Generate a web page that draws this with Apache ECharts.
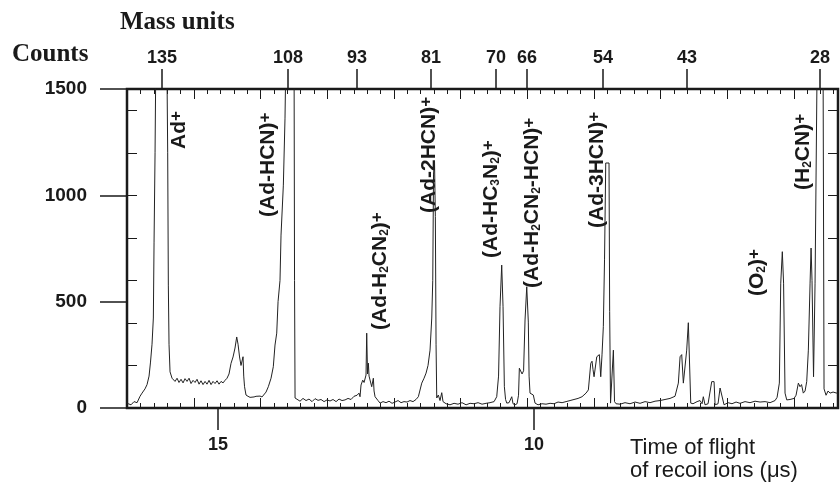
<!DOCTYPE html>
<html>
<head>
<meta charset="utf-8">
<script src="https://cdn.jsdelivr.net/npm/echarts@6/dist/echarts.min.js"></script>
<style>
  html, body { margin: 0; padding: 0; background: #fff; }
  #chart { width: 840px; height: 483px; }
</style>
</head>
<body>
<div id="chart"></div>
<script>
var timeValues = [
  16.440, 16.376, 16.329, 16.281, 16.234, 16.202, 16.155, 16.123, 16.091, 16.068,
  16.044, 16.023, 16.012, 15.996, 15.985, 15.917, 15.811, 15.796, 15.786, 15.775,
  15.759, 15.727, 15.680, 15.648, 15.617, 15.585, 15.553, 15.522, 15.490, 15.458,
  15.427, 15.395, 15.363, 15.332, 15.300, 15.269, 15.237, 15.205, 15.174, 15.142,
  15.110, 15.079, 15.047, 15.015, 14.984, 14.952, 14.920, 14.889, 14.857, 14.826,
  14.794, 14.762, 14.731, 14.704, 14.683, 14.659, 14.636, 14.604, 14.593, 14.580,
  14.557, 14.525, 14.493, 14.462, 14.430, 14.398, 14.367, 14.335, 14.303, 14.272,
  14.240, 14.204, 14.161, 14.125, 14.098, 14.071, 14.050, 14.019, 14.003, 13.966,
  13.940, 13.928, 13.860, 13.797, 13.789, 13.781, 13.750, 13.702, 13.655, 13.607,
  13.560, 13.512, 13.465, 13.417, 13.370, 13.322, 13.275, 13.227, 13.180, 13.132,
  13.085, 13.038, 12.990, 12.943, 12.895, 12.848, 12.800, 12.769, 12.753, 12.737,
  12.710, 12.689, 12.658, 12.647, 12.634, 12.621, 12.610, 12.595, 12.568, 12.542,
  12.531, 12.515, 12.468, 12.436, 12.389, 12.341, 12.294, 12.246, 12.199, 12.151,
  12.104, 12.057, 12.009, 11.962, 11.914, 11.867, 11.830, 11.803, 11.776, 11.740,
  11.708, 11.677, 11.645, 11.618, 11.602, 11.590, 11.574, 11.561, 11.550, 11.539,
  11.514, 11.487, 11.460, 11.440, 11.392, 11.329, 11.265, 11.202, 11.139, 11.075,
  11.012, 10.949, 10.885, 10.822, 10.759, 10.696, 10.632, 10.590, 10.561, 10.538,
  10.511, 10.490, 10.469, 10.450, 10.431, 10.395, 10.352, 10.332, 10.300, 10.268,
  10.245, 10.232, 10.213, 10.189, 10.165, 10.142, 10.115, 10.090, 10.078, 10.063,
  10.039, 10.011, 9.984, 9.936, 9.873, 9.810, 9.746, 9.683, 9.620, 9.556,
  9.493, 9.430, 9.367, 9.303, 9.240, 9.177, 9.140, 9.102, 9.082, 9.066,
  9.050, 9.007, 8.966, 8.944, 8.924, 8.903, 8.884, 8.865, 8.837, 8.813,
  8.803, 8.789, 8.765, 8.744, 8.726, 8.702, 8.639, 8.560, 8.481, 8.401,
  8.322, 8.243, 8.164, 8.085, 8.006, 7.927, 7.848, 7.769, 7.716, 7.689,
  7.663, 7.637, 7.610, 7.584, 7.558, 7.539, 7.520, 7.484, 7.420, 7.373,
  7.341, 7.321, 7.294, 7.246, 7.215, 7.188, 7.151, 7.135, 7.088, 7.056,
  7.025, 6.993, 6.930, 6.867, 6.803, 6.740, 6.661, 6.582, 6.503, 6.423,
  6.344, 6.265, 6.186, 6.154, 6.118, 6.096, 6.071, 6.051, 6.028, 6.001,
  5.949, 5.885, 5.854, 5.817, 5.791, 5.767, 5.739, 5.711, 5.685, 5.659,
  5.632, 5.616, 5.601, 5.577, 5.553, 5.521, 5.489, 5.426, 5.411, 5.379,
  5.347, 5.316, 5.268, 5.210, 5.189
];
var countValues = [
  22, 15, 30, 25, 55, 70, 90, 110, 150, 216,
  300, 423, 780, 1200, 1600, 4000, 1700, 1200, 578, 300,
  170, 140, 125, 140, 120, 135, 118, 138, 125, 140,
  115, 130, 120, 135, 112, 128, 110, 125, 112, 130,
  110, 125, 115, 128, 112, 125, 118, 130, 140, 160,
  210, 240, 282, 334, 300, 240, 200, 241, 150, 100,
  61, 55, 50, 58, 52, 55, 50, 56, 52, 60,
  75, 100, 140, 194, 296, 352, 500, 600, 813, 1048,
  1363, 1600, 4000, 1700, 600, 47, 40, 32, 45, 35,
  42, 30, 44, 36, 40, 30, 38, 33, 40, 30,
  42, 35, 38, 45, 40, 55, 60, 70, 53, 108,
  131, 120, 155, 352, 160, 211, 150, 155, 100, 140,
  80, 53, 35, 23, 30, 25, 32, 22, 28, 35,
  25, 30, 28, 35, 30, 40, 53, 61, 117, 140,
  164, 200, 272, 423, 600, 1100, 1160, 900, 300, 47,
  61, 35, 72, 30, 20, 15, 22, 18, 25, 15,
  22, 20, 25, 18, 22, 25, 30, 53, 150, 476,
  672, 476, 100, 40, 23, 25, 53, 20, 15, 20,
  60, 187, 180, 160, 175, 414, 570, 404, 150, 70,
  65, 61, 23, 15, 20, 18, 22, 20, 28, 25,
  30, 35, 40, 45, 53, 70, 85, 210, 220, 180,
  147, 241, 251, 147, 250, 382, 700, 1152, 1160, 1152,
  453, 23, 30, 272, 30, 20, 18, 25, 20, 28,
  22, 30, 25, 32, 35, 40, 45, 55, 117, 241,
  251, 117, 117, 272, 401, 401, 23, 20, 30, 35,
  20, 53, 15, 20, 18, 124, 124, 15, 20, 94,
  90, 15, 25, 20, 28, 22, 30, 25, 32, 28,
  30, 25, 35, 50, 117, 587, 735, 587, 70, 38,
  40, 45, 60, 117, 100, 110, 70, 80, 124, 272,
  587, 752, 600, 147, 587, 1600, 4000, 1600, 90, 60,
  80, 70, 75, 70, 65
];

// top axis: mass units and the flight time where each one sits
var massLabels = ['135', '108', '93', '81', '70', '66', '54', '43', '28'];
var massTimes = [15.886, 13.892, 12.800, 11.629, 10.601, 10.110, 8.908, 7.579, 5.474];

var timeTicks = [15, 10];
var timeMin = 5.19, timeMax = 16.44;

// peak names, rich text
var peakLabels = [
  '{m|Ad}{p|+}',
  '{m|(Ad-HCN)}{p|+}',
  '{m|(Ad-H}{s|2}{m|CN}{s|2}{m|)}{p|+}',
  '{m|(Ad-2HCN)}{p|+}',
  '{m|(Ad-HC}{s|3}{m|N}{s|2}{m|)}{p|+}',
  '{m|(Ad-H}{s|2}{m|CN}{s|2}{m|-HCN)}{p|+}',
  '{m|(Ad-3HCN)}{p|+}',
  '{m|(O}{s|2}{m|)}{p|+}',
  '{m|(H}{s|2}{m|CN)}{p|+}'
];
var peakLabelPos = [[179, 149], [268, 217], [380, 330], [429, 213], [491, 258], [532, 288], [597, 228], [757, 296], [803, 190]];

var sans = "'Liberation Sans', Arial, sans-serif";
var serif = "'Liberation Serif', 'Times New Roman', serif";
var ink = '#1a1a1a';

var spectrum = timeValues.map(function (t, i) { return [t, countValues[i]]; });

var plotBox = { left: 127, right: 2, top: 89, bottom: 75 };
var plotW = 840 - plotBox.left - plotBox.right;
var plotBottom = 483 - plotBox.bottom;

var chart = echarts.init(document.getElementById('chart'));

var richStyle = {
  m: { fontFamily: sans, fontWeight: 'bold', fontSize: 21, lineHeight: 22, fill: ink, verticalAlign: 'bottom' },
  s: { fontFamily: sans, fontWeight: 'bold', fontSize: 12, lineHeight: 22, fill: ink, verticalAlign: 'bottom' },
  p: { fontFamily: sans, fontWeight: 'bold', fontSize: 17, lineHeight: 22, fill: ink, verticalAlign: 'top' }
};

var graphics = peakLabels.map(function (txt, i) {
  return {
    type: 'text',
    x: peakLabelPos[i][0],
    y: peakLabelPos[i][1],
    rotation: Math.PI / 2,
    style: {
      text: txt,
      rich: richStyle,
      align: 'left',
      verticalAlign: 'middle'
    }
  };
});
graphics.push(
  { type: 'text', x: 120, y: 23, style: { text: 'Mass units', font: 'bold 25px ' + serif, fill: ink, verticalAlign: 'middle' } },
  { type: 'text', x: 12, y: 55, style: { text: 'Counts', font: 'bold 25px ' + serif, fill: ink, verticalAlign: 'middle' } },
  { type: 'text', x: 630, y: 436, style: { text: 'Time of flight\nof recoil ions (\u03bcs)', font: '22px ' + sans, lineHeight: 23, fill: ink, verticalAlign: 'top' } }
);

// the frame's own small ticks along top and bottom edges (decoration only)
var frameStep = 13.33;
for (var k = 1; k * frameStep < plotW - 2; k++) {
  var fx = Math.round(plotBox.left + k * frameStep) + 0.5;
  var flen = (k % 5 === 0) ? 10 : 5;
  graphics.push(
    { type: 'line', silent: true, shape: { x1: fx, y1: plotBox.top, x2: fx, y2: plotBox.top + flen }, style: { stroke: ink, lineWidth: 1 } },
    { type: 'line', silent: true, shape: { x1: fx, y1: plotBottom, x2: fx, y2: plotBottom - flen }, style: { stroke: ink, lineWidth: 1 } }
  );
}

var countFormatter = function (v) { return String(v); };

var option = {
  backgroundColor: '#ffffff',
  animation: false,
  grid: Object.assign({ show: true, borderColor: ink, borderWidth: 2.5 }, plotBox),
  xAxis: [
    {
      type: 'value', position: 'bottom', min: timeMin, max: timeMax, inverse: true,
      axisLine: { show: false, onZero: false },
      splitLine: { show: false },
      axisTick: { show: true, length: 22, customValues: timeTicks, lineStyle: { color: ink, width: 1.5 } },
      axisLabel: { customValues: timeTicks, margin: 28, fontFamily: sans, fontWeight: 'bold', fontSize: 18, color: ink }
    },
    {
      type: 'value', position: 'top', min: timeMin, max: timeMax, inverse: true,
      axisLine: { show: false, onZero: false },
      splitLine: { show: false },
      axisTick: { show: true, length: 20, customValues: massTimes, lineStyle: { color: ink, width: 1.5 } },
      axisLabel: {
        customValues: massTimes, margin: 22, fontFamily: sans, fontWeight: 'bold', fontSize: 18, color: ink,
        formatter: function (v) {
          for (var i = 0; i < massTimes.length; i++) {
            if (Math.abs(massTimes[i] - v) < 1e-6) return massLabels[i];
          }
          return '';
        }
      }
    }
  ],
  yAxis: [
    {
      type: 'value', position: 'left', min: 0, max: 1500, interval: 500,
      axisLine: { show: false, onZero: false },
      splitLine: { show: false },
      axisTick: { show: true, length: 27, lineStyle: { color: ink, width: 1.5 } },
      axisLabel: { margin: 40, fontFamily: sans, fontWeight: 'bold', fontSize: 19, color: ink, formatter: countFormatter }
    },
    {
      type: 'value', position: 'left', min: 0, max: 1500, interval: 200,
      axisLine: { show: false, onZero: false },
      splitLine: { show: false },
      axisLabel: { show: false },
      axisTick: { show: true, inside: true, length: 10, lineStyle: { color: ink, width: 1 } }
    },
    {
      type: 'value', position: 'right', min: 0, max: 1500, interval: 200,
      axisLine: { show: false, onZero: false },
      splitLine: { show: false },
      axisLabel: { show: false },
      axisTick: { show: true, inside: true, length: 10, lineStyle: { color: ink, width: 1 } }
    }
  ],
  series: [
    {
      type: 'line',
      xAxisIndex: 0,
      yAxisIndex: 0,
      data: spectrum,
      showSymbol: false,
      clip: true,
      lineStyle: { color: '#222', width: 1 }
    }
  ],
  graphic: graphics
};

chart.setOption(option);
</script>
</body>
</html>
